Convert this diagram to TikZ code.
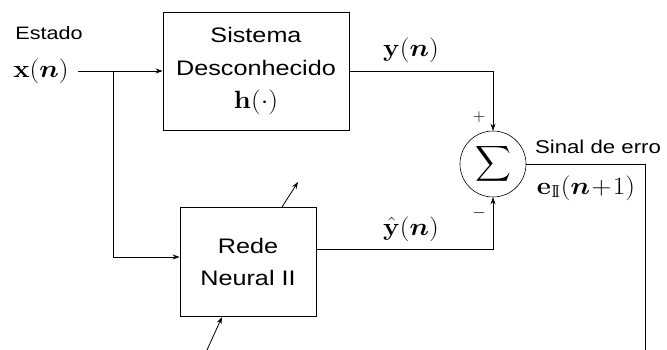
\documentclass[tikz,border=0pt]{standalone}
\usepackage[no-math]{fontspec}
\setmainfont{Liberation Sans}[FakeStretch=1.2]
\usepackage{amsmath}
\usetikzlibrary{arrows.meta}
\newcommand{\mth}[1]{\scalebox{1.1}[1]{$#1$}}
\tikzset{
  blk/.style={draw, line width=0.8pt, inner sep=0pt, align=center},
  lbl/.style={inner sep=0pt, align=center},
  mlbl/.style={inner sep=0pt, align=center, font=\fontsize{25}{25}\selectfont},
  wire/.style={line width=0.8pt},
  arr/.style={line width=0.8pt, -{Stealth[length=7pt,width=5pt]}},
}
\begin{document}
\begin{tikzpicture}[x=1pt,y=-1pt]
\useasboundingbox (0,0) rectangle (667,350);
% blocks
\node[blk, minimum width=186pt, minimum height=118pt,
      font=\fontsize{21}{33}\selectfont] (sys) at (256,71)
  {Sistema\\Desconhecido\\\fontsize{25}{25}\selectfont\mth{\mathbf{h}(\cdot)}};
\node[blk, minimum width=136pt, minimum height=109pt,
      font=\fontsize{21}{32}\selectfont] (rede) at (248,261.5)
  {Rede\\Neural II};
\node[draw, circle, line width=0.6pt, minimum size=66pt, inner sep=0pt] (sum) at (493,164)
  {\fontsize{27}{27}\selectfont$\displaystyle\sum$};
% labels
\node[lbl, font=\fontsize{18}{18}\selectfont] (estado) at (49,33) {Estado};
\node[mlbl] (xn) at (41,71) {\mth{\mathbf{x}(\boldsymbol{n})}};
\node[mlbl] (yn) at (411,50) {\mth{\mathbf{y}(\boldsymbol{n})}};
\node[mlbl] (yhn) at (411,229) {\mth{\hat{\mathbf{y}}(\boldsymbol{n})}};
\node[lbl, font=\fontsize{16}{16}\selectfont] (plus) at (479,117) {$+$};
\node[lbl, font=\fontsize{16}{16}\selectfont] (minus) at (479,213) {$-$};
\node[lbl, font=\fontsize{18.5}{18.5}\selectfont] (sinal) at (598,147) {Sinal de erro};
\node[mlbl] (err) at (586,188) {\mth{\mathbf{e}_{\mathrm{I\!I}}(\boldsymbol{n}\!+\!1)}};
% coordinates
\coordinate (xin) at (78,71);
\coordinate (br) at (113,71);
\coordinate (eout) at (645,350);
\coordinate (w1a) at (282,207);
\coordinate (w1b) at (298,182);
\coordinate (w2a) at (207,350);
\coordinate (w2b) at (222,317);
% connectors
\draw[arr] (xin) -- (sys.west);
\draw[arr] (br) |- ([yshift=4.5pt]rede.west);
\draw[arr] (sys.east) -| (sum.north);
\draw[arr] ([yshift=12.5pt]rede.east) -| (sum.south);
\draw[wire] (sum.east) -| (eout);
\draw[arr] (w1a) -- (w1b);
\draw[arr] (w2a) -- (w2b);
\end{tikzpicture}
\end{document}
